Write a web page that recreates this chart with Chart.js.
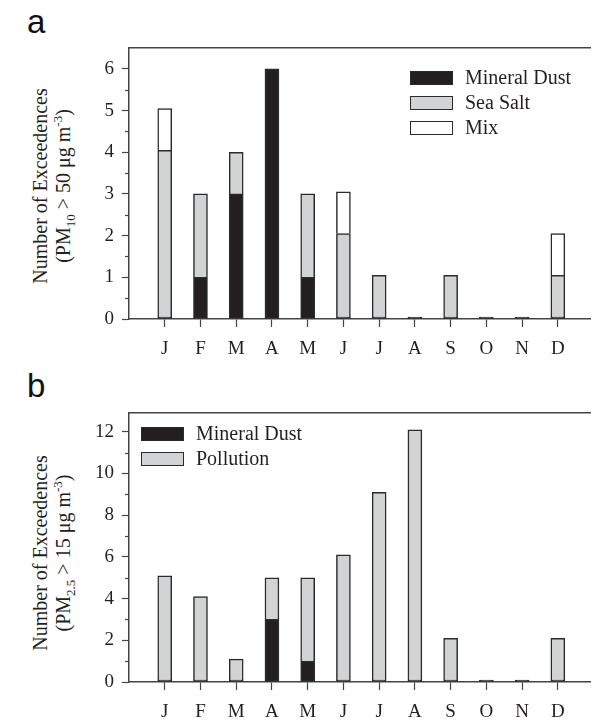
<!DOCTYPE html>
<html>
<head>
<meta charset="utf-8">
<script src="https://cdn.jsdelivr.net/npm/chart.js@4"></script>
<style>
  body { margin: 0; background: #fff; }
  #page { position: relative; width: 592px; height: 720px; overflow: hidden; font-family: "Liberation Serif", serif; color: #231f20; }
  .panel { position: absolute; left: 0; width: 592px; height: 360px; }
  .letter { position: absolute; font-family: "Liberation Sans", Arial, sans-serif; font-size: 33px; line-height: 33px; color: #111; }
  .ytitle { position: absolute; width: 260px; text-align: center; font-family: "Liberation Serif", serif; font-size: 20px; line-height: 23px; transform: translate(-50%, -50%) rotate(-90deg); white-space: nowrap; }
  .ytitle sub, .ytitle sup { font-size: 13px; line-height: 0; }
  .legend { position: absolute; font-family: "Liberation Serif", serif; font-size: 20px; }
  .legend .item { position: absolute; white-space: nowrap; height: 24px; }
  .legend .box { position: absolute; left: 0; top: 5px; width: 41px; height: 12px; border: 1.5px solid #2b2b2b; }
  .legend .txt { position: absolute; top: 0; line-height: 22px; font-family: "Liberation Serif", serif; }
</style>
</head>
<body>
<div id="page">
  <div class="letter" style="left:27px; top:5px;">a</div>
  <div class="letter" style="left:27px; top:369px;">b</div>

  <div class="ytitle" style="left:52px; top:186px;">Number of Exceedences<br>(PM<sub>10</sub> &gt; 50 μg m<sup>-3</sup>)</div>
  <div class="ytitle" style="left:52px; top:553px;">Number of Exceedences<br>(PM<sub>2.5</sub> &gt; 15 μg m<sup>-3</sup>)</div>

  <div class="panel" style="top:0;"><canvas id="chartA"></canvas></div>
  <div class="panel" style="top:360px;"><canvas id="chartB"></canvas></div>

  <div class="legend" id="legendA" style="left:410px; top:66px;"></div>
  <div class="legend" id="legendB" style="left:141px; top:422px;"></div>
</div>

<script>
// Months along the x axis
const months = ['J', 'F', 'M', 'A', 'M', 'J', 'J', 'A', 'S', 'O', 'N', 'D'];

// Panel a: PM10 exceedences
const pm10Dust = [0, 1, 3, 6, 1, 0, 0, 0, 0, 0, 0, 0];
const pm10SeaSalt = [4, 2, 1, 0, 2, 2, 1, 0, 1, 0, 0, 1];
const pm10Mix = [1, 0, 0, 0, 0, 1, 0, 0, 0, 0, 0, 1];
const pm10Ticks = [0, 1, 2, 3, 4, 5, 6];
const pm10MinorTicks = [0.5, 1.5, 2.5, 3.5, 4.5, 5.5];

// Panel b: PM2.5 exceedences
const pm25Dust = [0, 0, 0, 3, 1, 0, 0, 0, 0, 0, 0, 0];
const pm25Pollution = [5, 4, 1, 2, 4, 6, 9, 12, 2, 0, 0, 2];
const pm25Ticks = [0, 2, 4, 6, 8, 10, 12];
const pm25MinorTicks = [1, 3, 5, 7, 9, 11];

const dustColor = '#231f20';
const greyColor = '#d1d3d4';
const mixColor = '#ffffff';
const edgeColor = '#2b2b2b';
const axisColor = '#444444';
const serif = "'Liberation Serif', serif";

// Small ticks between the labelled ones on the y axis
const minorTicks = {
    id: 'minorTicks',
    afterDraw(chart, args, opts) {
        const y = chart.scales.y;
        const ctx = chart.ctx;
        ctx.save();
        ctx.strokeStyle = axisColor;
        ctx.lineWidth = 1.2;
        opts.values.forEach(v => {
            const py = Math.round(y.getPixelForValue(v)) + 0.5;
            ctx.beginPath();
            ctx.moveTo(y.right - 4, py);
            ctx.lineTo(y.right, py);
            ctx.stroke();
        });
        ctx.restore();
    }
};

function toPoints(values) {
    return values.map((v, i) => ({ x: i + 1, y: v }));
}

function makeDataset(label, values, color, isBottom) {
    return {
        label: label,
        data: toPoints(values),
        backgroundColor: color,
        borderColor: edgeColor,
        borderWidth: 1.5,
        borderSkipped: isBottom ? false : 'start',
        barThickness: 14,
        minBarLength: isBottom ? 2 : 0
    };
}

function makeChart(canvasId, datasets, yMax, yTicks, yMinor, padTop, xHeight, labelPad) {
    return new Chart(document.getElementById(canvasId), {
        type: 'bar',
        data: { datasets: datasets },
        plugins: [minorTicks],
        options: {
            responsive: true,
            maintainAspectRatio: false,
            animation: false,
            layout: { padding: { top: padTop, right: 2, left: 0, bottom: 0 } },
            plugins: {
                legend: { display: false },
                tooltip: { enabled: false },
                minorTicks: { values: yMinor }
            },
            scales: {
                x: {
                    type: 'linear',
                    stacked: true,
                    offset: false,
                    min: 0,
                    max: 12.9,
                    afterBuildTicks: s => { s.ticks = months.map((m, i) => ({ value: i + 1 })); },
                    afterFit: s => { s.height = xHeight; },
                    ticks: {
                        callback: v => months[v - 1],
                        font: { family: serif, size: 19 },
                        color: '#231f20',
                        padding: labelPad,
                        maxRotation: 0,
                        autoSkip: false
                    },
                    grid: { offset: false, drawOnChartArea: false, drawTicks: true, tickLength: 8, tickWidth: 1.2, tickColor: axisColor },
                    border: { display: true, color: axisColor, width: 1.5 }
                },
                x2: {
                    type: 'linear',
                    position: 'top',
                    offset: false,
                    min: 0,
                    max: 12.9,
                    afterFit: s => { s.height = 0; },
                    ticks: { display: false },
                    grid: { display: false, drawTicks: false },
                    border: { display: true, color: axisColor, width: 1.5 }
                },
                y: {
                    stacked: true,
                    min: 0,
                    max: yMax,
                    afterBuildTicks: s => { s.ticks = yTicks.map(v => ({ value: v })); },
                    afterFit: s => { s.width = 129; },
                    ticks: {
                        font: { family: serif, size: 19 },
                        color: '#231f20',
                        padding: 8
                    },
                    grid: { drawOnChartArea: false, drawTicks: true, tickLength: 7, tickWidth: 1.2, tickColor: axisColor },
                    border: { display: true, color: axisColor, width: 1.5 }
                }
            }
        }
    });
}

// Build an HTML legend from the datasets
function buildLegend(elId, datasets) {
    const el = document.getElementById(elId);
    datasets.forEach((ds, i) => {
        const item = document.createElement('div');
        item.className = 'item';
        item.style.top = (i * 25) + 'px';
        item.innerHTML = `<span class="box" style="background:${ds.backgroundColor}"></span><span class="txt" style="left:55px">${ds.label}</span>`;
        el.appendChild(item);
    });
}

const datasetsA = [
    makeDataset('Mineral Dust', pm10Dust, dustColor, true),
    makeDataset('Sea Salt', pm10SeaSalt, greyColor, false),
    makeDataset('Mix', pm10Mix, mixColor, false)
];
const datasetsB = [
    makeDataset('Mineral Dust', pm25Dust, dustColor, true),
    makeDataset('Pollution', pm25Pollution, greyColor, false)
];

makeChart('chartA', datasetsA, 6.5, pm10Ticks, pm10MinorTicks, 48, 41, 11);
makeChart('chartB', datasetsB, 12.9, pm25Ticks, pm25MinorTicks, 53, 38, 11);

buildLegend('legendA', datasetsA);
buildLegend('legendB', datasetsB);
</script>
</body>
</html>
